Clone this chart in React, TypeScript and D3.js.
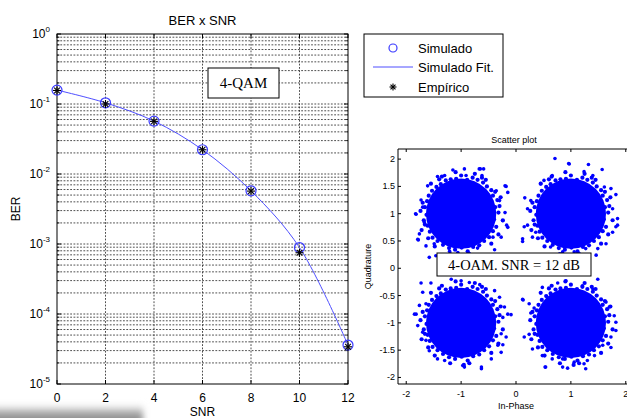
import React from "react";
import * as d3 from "d3";

// ---------- BER x SNR data ----------
const snr = [0, 2, 4, 6, 8, 10, 12];
const berSimulado = [0.158, 0.104, 0.057, 0.0222, 0.00575, 0.00089, 0.000036];
const berEmpirico = [0.156, 0.1, 0.0565, 0.0222, 0.0057, 0.00075, 0.000034];
const xTicks = [0, 2, 4, 6, 8, 10, 12];
const yExponents = [0, -1, -2, -3, -4, -5];
const legendLabels = ["Simulado", "Simulado Fit.", "Empírico"];

// ---------- Scatter plot data ----------
const clusterCenters: [number, number][] = [
  [-1, 1],
  [1, 1],
  [-1, -1],
  [1, -1],
];
const coreRadius = 0.64;
// band of points around the dense core (offsets from the cluster centre)
const edgeOffsets: [number, number][] = [
  [0.68, 0.02], [0.62, 0.12], [0.66, 0.25], [0.58, 0.33], [0.55, 0.43], [0.47, 0.5],
  [0.4, 0.57], [0.3, 0.62], [0.21, 0.66], [0.11, 0.62], [0.0, 0.7], [-0.09, 0.64],
  [-0.19, 0.63], [-0.28, 0.61], [-0.37, 0.54], [-0.45, 0.49], [-0.53, 0.42], [-0.59, 0.33],
  [-0.62, 0.23], [-0.66, 0.12], [-0.63, -0.02], [-0.68, -0.12], [-0.61, -0.22], [-0.57, -0.33],
  [-0.52, -0.44], [-0.43, -0.5], [-0.33, -0.57], [-0.22, -0.63], [-0.11, -0.66], [0.01, -0.62],
  [0.12, -0.69], [0.22, -0.61], [0.33, -0.58], [0.42, -0.5], [0.51, -0.43], [0.58, -0.32],
  [0.64, -0.24], [0.6, -0.1], [0.72, 0.3], [0.45, 0.62], [-0.1, 0.76], [-0.55, 0.55],
  [-0.74, 0.05], [-0.48, -0.6], [0.05, -0.77], [0.55, -0.55], [0.76, -0.12], [0.25, 0.73],
  [-0.35, 0.68], [-0.72, -0.3], [-0.2, -0.74], [0.68, -0.38], [0.7, 0.14], [-0.7, 0.2],
  [0.38, 0.66], [-0.6, -0.45], [0.15, -0.74], [-0.4, 0.63], [0.62, 0.4], [-0.66, -0.2],
];
const outliersTL: [number, number][] = [
  [-0.15, 0.8], [0.06, 0.82], [0.35, 0.82], [0.41, 0.82], [-0.43, 0.68], [-0.3, 0.7],
  [0.09, 0.7], [0.38, 0.7], [-0.61, 0.51], [0.8, 0.51], [0.85, 0.39], [0.64, 0.42],
  [-0.82, -0.01], [-0.7, 0.12], [0.8, 0.02], [0.76, -0.13], [0.85, -0.25], [-0.76, -0.37],
  [-0.78, -0.48], [-0.64, -0.59], [-0.49, -0.55], [0.58, -0.43], [0.73, -0.43], [0.61, -0.66],
  [-0.58, -0.8], [-0.46, -0.77], [-0.21, -0.69], [-0.06, -0.71], [0.3, -0.63], [-0.67, -0.16],
  [-0.73, 0.25], [0.7, 0.24], [-0.83, 0.0], [-0.79, -0.47], [0.33, 0.82], [0.82, 0.5],
  [0.83, -0.21],
];
const outliersTR: [number, number][] = [
  [-0.29, 1.01], [-0.03, 0.91], [0.32, 0.9], [0.57, 0.81], [-0.49, 0.61], [-0.55, 0.55],
  [-0.34, 0.7], [0.24, 0.77], [0.4, 0.7], [0.61, 0.49], [0.73, 0.46], [0.82, 0.35],
  [-0.84, 0.29], [-0.73, 0.24], [-0.79, 0.09], [0.76, 0.09], [0.85, -0.09], [0.82, -0.24],
  [0.76, -0.34], [-0.85, -0.24], [-0.79, -0.21], [-0.88, -0.46], [-0.7, -0.43], [0.64, -0.55],
  [0.49, -0.64], [0.46, -0.76], [-0.37, -0.61], [-0.15, -0.7], [0.06, -0.7], [0.27, -0.64],
  [-0.64, -0.34], [-0.04, 0.92], [0.85, -0.21], [-0.88, -0.51],
];
const outliersBL: [number, number][] = [
  [-0.55, 0.73], [-0.18, 0.8], [0.0, 0.77], [0.15, 0.74], [0.34, 0.7], [-0.7, 0.56],
  [-0.64, 0.35], [-0.82, 0.16], [-0.79, -0.05], [-0.7, -0.17], [-0.64, -0.32], [0.79, 0.29],
  [0.76, 0.1], [0.85, 0.16], [0.73, -0.2], [0.82, -0.26], [0.67, -0.41], [0.73, -0.54],
  [-0.58, -0.51], [-0.43, -0.66], [-0.3, -0.69], [0.03, -0.78], [0.06, -0.81], [0.37, -0.81],
  [0.55, -0.66], [-0.76, 0.32], [0.61, 0.59], [0.7, 0.47], [-0.85, 0.16], [-0.73, 0.73],
  [0.37, -0.84], [0.91, 0.15], [0.76, -0.4],
];
const outliersBR: [number, number][] = [
  [-0.87, 0.42], [-0.76, 0.35], [-0.67, 0.27], [-0.73, 0.18], [-0.52, 0.65], [-0.24, 0.73],
  [-0.09, 0.77], [0.49, 0.8], [0.21, 0.68], [0.4, 0.62], [0.64, 0.38], [0.7, 0.29],
  [0.79, 0.13], [0.82, 0.01], [0.82, -0.14], [0.73, -0.26], [0.58, -0.41], [0.73, -0.45],
  [-0.85, -0.26], [-0.76, -0.21], [-0.7, -0.48], [-0.52, -0.6], [-0.34, -0.66], [-0.15, -0.66],
  [0.06, -0.72], [0.24, -0.75], [0.3, -0.69], [0.43, -0.6], [-0.47, -0.81], [-0.15, -0.81],
  [-0.06, -0.83], [0.27, -0.84], [-0.88, 0.43], [-0.46, -0.81],
];
const clusterOutliers = [outliersTL, outliersTR, outliersBL, outliersBR];
const scatterXTicks = [-2, -1, 0, 1, 2];
const scatterYTicks = [2, 1.5, 1, 0.5, 0, -0.5, -1, -1.5, -2];

const SANS = "Arial, 'Liberation Sans', Helvetica, sans-serif";
const SERIF = "'Times New Roman', 'Liberation Serif', serif";

function Star({ x, y, s }: { x: number; y: number; s: number }) {
  const d = s * 0.7071;
  return (
    <g stroke="#000" strokeWidth={1.1}>
      <line x1={x - s} y1={y} x2={x + s} y2={y} />
      <line x1={x} y1={y - s} x2={x} y2={y + s} />
      <line x1={x - d} y1={y - d} x2={x + d} y2={y + d} />
      <line x1={x - d} y1={y + d} x2={x + d} y2={y - d} />
    </g>
  );
}

export default function App() {
  const W = 627;
  const H = 418;

  // ----- left plot -----
  const L = { left: 57, right: 348, top: 34, bottom: 384 };
  const x = d3.scaleLinear().domain([0, 12]).range([L.left, L.right]);
  const y = d3.scaleLog().domain([1e-5, 1]).range([L.bottom, L.top]);

  const minorVals: number[] = [];
  for (let e = -5; e < 0; e++) {
    for (let m = 2; m <= 9; m++) minorVals.push(m * Math.pow(10, e));
  }
  const majorVals = yExponents.map((e) => Math.pow(10, e));

  const fitLine = d3
    .line<number>()
    .x((_, i) => x(snr[i]))
    .y((v) => y(v))
    .curve(d3.curveCatmullRom.alpha(0.5))(berSimulado) as string;

  // ----- scatter plot -----
  const S = { left: 398, right: 634, top: 149, bottom: 384 };
  const sx = d3.scaleLinear().domain([-2.15, 2.15]).range([S.left, S.right]);
  const sy = d3.scaleLinear().domain([-2.12, 2.185]).range([S.bottom, S.top]);
  const rPix = sx(coreRadius) - sx(0);

  const dash = "1.8,1.5";
  const gridColor = "#222";

  return (
    <svg width={W} height={H} style={{ position: "absolute", left: 0, top: 0, background: "#fff" }}>
      <defs>
        <linearGradient id="shadeG" x1="0" y1="0" x2="0" y2="1">
          <stop offset="0" stopColor="#ffffff" stopOpacity={0} />
          <stop offset="0.35" stopColor="#a0a0a0" stopOpacity={0.9} />
          <stop offset="1" stopColor="#606060" stopOpacity={1} />
        </linearGradient>
        <filter id="blurF" x="-20%" y="-50%" width="140%" height="200%">
          <feGaussianBlur stdDeviation="3" />
        </filter>
        <clipPath id="scClip">
          <rect x={S.left} y={S.top} width={S.right - S.left} height={S.bottom - S.top} />
        </clipPath>
      </defs>
      <rect x={0} y={0} width={W} height={H} fill="#fff" />

      {/* bottom-left shadow artifact */}
      <rect x={-20} y={402} width={163} height={30} fill="url(#shadeG)" filter="url(#blurF)" />

      {/* ===== Left plot ===== */}
      <g>
        {/* horizontal grid */}
        {minorVals.concat(majorVals.slice(1, 5)).map((v, i) => (
          <line key={"hg" + i} x1={L.left} x2={L.right} y1={y(v)} y2={y(v)} stroke={gridColor} strokeWidth={0.8} strokeDasharray={dash} />
        ))}
        {/* vertical grid */}
        {xTicks.slice(1, 6).map((t) => (
          <line key={"vg" + t} x1={x(t)} x2={x(t)} y1={L.top} y2={L.bottom} stroke={gridColor} strokeWidth={0.8} strokeDasharray={dash} />
        ))}
        {/* ticks */}
        {majorVals.map((v, i) => (
          <g key={"myt" + i} stroke="#000" strokeWidth={1}>
            <line x1={L.left} x2={L.left + 4} y1={y(v)} y2={y(v)} />
            <line x1={L.right - 4} x2={L.right} y1={y(v)} y2={y(v)} />
          </g>
        ))}
        {minorVals.map((v, i) => (
          <g key={"mnt" + i} stroke="#000" strokeWidth={0.8}>
            <line x1={L.left} x2={L.left + 2.5} y1={y(v)} y2={y(v)} />
            <line x1={L.right - 2.5} x2={L.right} y1={y(v)} y2={y(v)} />
          </g>
        ))}
        {xTicks.map((t) => (
          <g key={"xt" + t} stroke="#000" strokeWidth={1}>
            <line x1={x(t)} x2={x(t)} y1={L.bottom} y2={L.bottom - 4} />
            <line x1={x(t)} x2={x(t)} y1={L.top} y2={L.top + 4} />
          </g>
        ))}
        <rect x={L.left} y={L.top} width={L.right - L.left} height={L.bottom - L.top} fill="none" stroke="#000" strokeWidth={1} />

        {/* tick labels */}
        {yExponents.map((e) => (
          <text key={"yl" + e} x={L.left - 7} y={y(Math.pow(10, e)) + 4} textAnchor="end" fontFamily={SANS} fontSize={12} fill="#000">
            10
            <tspan dy={-6} fontSize={8}>{String(e)}</tspan>
          </text>
        ))}
        {xTicks.map((t) => (
          <text key={"xl" + t} x={x(t)} y={L.bottom + 18} textAnchor="middle" fontFamily={SANS} fontSize={12} fill="#000">
            {t}
          </text>
        ))}
        <text x={(L.left + L.right) / 2} y={25} textAnchor="middle" fontFamily={SANS} fontSize={13} fill="#000">
          BER x SNR
        </text>
        <text x={(L.left + L.right) / 2} y={416} textAnchor="middle" fontFamily={SANS} fontSize={12} fill="#000">
          SNR
        </text>
        <text transform={`translate(20,${(L.top + L.bottom) / 2}) rotate(-90)`} textAnchor="middle" fontFamily={SANS} fontSize={12} fill="#000">
          BER
        </text>

        {/* data */}
        <path d={fitLine} fill="none" stroke="#4f4fff" strokeWidth={1} />
        {snr.map((s, i) => (
          <circle key={"c" + i} cx={x(s)} cy={y(berSimulado[i])} r={5} fill="none" stroke="#3a3aff" strokeWidth={1.2} />
        ))}
        {snr.map((s, i) => (
          <Star key={"s" + i} x={x(s)} y={y(berEmpirico[i])} s={4} />
        ))}

        {/* 4-QAM annotation */}
        <rect x={208} y={68} width={71} height={30} fill="#fff" stroke="#000" strokeWidth={1} />
        <text x={243.5} y={88} textAnchor="middle" fontFamily={SERIF} fontSize={15} fill="#000">
          4-QAM
        </text>
      </g>

      {/* ===== Legend ===== */}
      <g>
        <rect x={364} y={34} width={139} height={63} fill="#fff" stroke="#000" strokeWidth={1} />
        <circle cx={393} cy={48} r={4} fill="none" stroke="#3a3aff" strokeWidth={1.2} />
        <line x1={373} x2={413} y1={67} y2={67} stroke="#4f4fff" strokeWidth={1} />
        <Star x={393} y={87} s={3.5} />
        {legendLabels.map((lbl, i) => (
          <text key={lbl} x={418} y={52.5 + i * 19.5} fontFamily={SANS} fontSize={13} fill="#000">
            {lbl}
          </text>
        ))}
      </g>

      {/* ===== Scatter plot ===== */}
      <g>
        <g clipPath="url(#scClip)">
          {clusterCenters.map(([cx, cy], k) => (
            <g key={"cl" + k} fill="#0000ff">
              <circle cx={sx(cx)} cy={sy(cy)} r={rPix} />
              {edgeOffsets.map(([dx, dy], i) => (
                <circle key={"e" + i} cx={sx(cx + dx)} cy={sy(cy + dy)} r={2.1} />
              ))}
              {clusterOutliers[k].map(([dx, dy], i) => (
                <circle key={"o" + i} cx={sx(cx + dx)} cy={sy(cy + dy)} r={1.8} />
              ))}
            </g>
          ))}
        </g>
        {/* axes */}
        <line x1={S.left} x2={S.left} y1={S.top} y2={S.bottom} stroke="#000" strokeWidth={1} />
        <line x1={S.left} x2={W} y1={S.bottom} y2={S.bottom} stroke="#000" strokeWidth={1} />
        <line x1={S.left} x2={W} y1={S.top} y2={S.top} stroke="#000" strokeWidth={1} />
        {scatterXTicks.map((t) => (
          <g key={"sxt" + t} stroke="#000" strokeWidth={1}>
            <line x1={sx(t)} x2={sx(t)} y1={S.bottom} y2={S.bottom - 3} />
            <line x1={sx(t)} x2={sx(t)} y1={S.top} y2={S.top + 3} />
          </g>
        ))}
        {scatterYTicks.map((t) => (
          <line key={"syt" + t} x1={S.left} x2={S.left + 3} y1={sy(t)} y2={sy(t)} stroke="#000" strokeWidth={1} />
        ))}
        {scatterXTicks.map((t) => (
          <text key={"sxl" + t} x={sx(t)} y={S.bottom + 13} textAnchor="middle" fontFamily={SANS} fontSize={9} fill="#000">
            {t}
          </text>
        ))}
        {scatterYTicks.map((t) => (
          <text key={"syl" + t} x={S.left - 3} y={sy(t) + 3} textAnchor="end" fontFamily={SANS} fontSize={9} fill="#000">
            {t}
          </text>
        ))}
        <text x={514} y={143} textAnchor="middle" fontFamily={SANS} fontSize={9} fill="#000">
          Scatter plot
        </text>
        <text x={516} y={409} textAnchor="middle" fontFamily={SANS} fontSize={9} fill="#000">
          In-Phase
        </text>
        <text transform={`translate(371,${(S.top + S.bottom) / 2}) rotate(-90)`} textAnchor="middle" fontFamily={SANS} fontSize={9} fill="#000">
          Quadrature
        </text>

        {/* annotation */}
        <rect x={437} y={253} width={154} height={23} fill="#fff" stroke="#000" strokeWidth={1} />
        <text x={514} y={270} textAnchor="middle" fontFamily={SERIF} fontSize={14.5} fill="#000">
          4-OAM. SNR = 12 dB
        </text>
      </g>
    </svg>
  );
}
